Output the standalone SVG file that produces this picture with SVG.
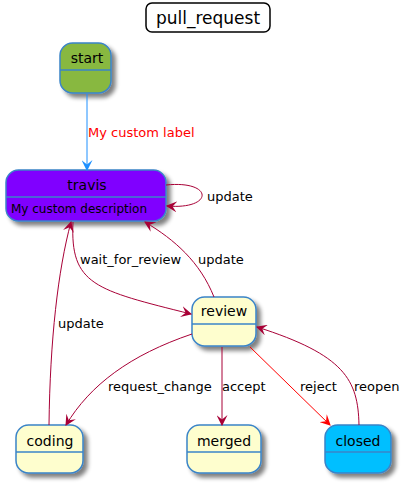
<svg xmlns="http://www.w3.org/2000/svg" width="410" height="484" viewBox="0 0 410 484">
<defs>
<filter id="sh" x="-20%" y="-20%" width="150%" height="150%">
<feGaussianBlur in="SourceAlpha" stdDeviation="2"/>
<feOffset dx="4" dy="4" result="b"/>
<feComponentTransfer><feFuncA type="linear" slope="0.5"/></feComponentTransfer>
<feMerge><feMergeNode/><feMergeNode in="SourceGraphic"/></feMerge>
</filter>
<marker id="ar" viewBox="0 0 10 10" refX="9" refY="5" markerWidth="11" markerHeight="11" markerUnits="userSpaceOnUse" orient="auto"><path d="M0,0 L10,5 L0,10 L4,5 Z" fill="#A80036"/></marker>
<marker id="ab" viewBox="0 0 10 10" refX="9" refY="5" markerWidth="11" markerHeight="11" markerUnits="userSpaceOnUse" orient="auto"><path d="M0,0 L10,5 L0,10 L4,5 Z" fill="#1E90FF"/></marker>
<marker id="ared" viewBox="0 0 10 10" refX="9" refY="5" markerWidth="11" markerHeight="11" markerUnits="userSpaceOnUse" orient="auto"><path d="M0,0 L10,5 L0,10 L4,5 Z" fill="#FF0000"/></marker>
</defs>
<style>
text{font-family:"DejaVu Sans","Liberation Sans",sans-serif;fill:#000}
.n{font-size:14px;text-anchor:middle}
.l{font-size:13px}
.box{stroke:#3A84C8;stroke-width:1.5}
.div{stroke:#3A84C8;stroke-width:1.5}
.e{fill:none;stroke:#A80036;stroke-width:1}
</style>
<g id="title">
<rect x="146" y="3" width="124" height="29" rx="6" fill="#fff" stroke="#000" stroke-width="1.5"/>
<text x="208" y="24" style="font-size:17px;text-anchor:middle">pull_request</text>
</g>
<g id="start">
<rect class="box" x="60" y="43" width="51" height="50" rx="12.5" fill="#88B840" filter="url(#sh)"/>
<line class="div" x1="60" y1="70" x2="111" y2="70"/>
<text class="n" x="87" y="63">start</text>
</g>
<g id="travis">
<rect class="box" x="6" y="170" width="160" height="51" rx="12.5" fill="#8000FF" filter="url(#sh)"/>
<line class="div" x1="6" y1="197" x2="166" y2="197"/>
<text class="n" x="87" y="190">travis</text>
<text x="11" y="213" style="font-size:12px">My custom description</text>
</g>
<g id="review">
<rect class="box" x="192" y="297" width="64" height="49" rx="12.5" fill="#FEFECE" filter="url(#sh)"/>
<line class="div" x1="192" y1="324" x2="256" y2="324"/>
<text class="n" x="224" y="316">review</text>
</g>
<g id="coding">
<rect class="box" x="16" y="425" width="67" height="48" rx="12.5" fill="#FEFECE" filter="url(#sh)"/>
<line class="div" x1="16" y1="452" x2="83" y2="452"/>
<text class="n" x="50" y="446">coding</text>
</g>
<g id="merged">
<rect class="box" x="187" y="425" width="74" height="48" rx="12.5" fill="#FEFECE" filter="url(#sh)"/>
<line class="div" x1="187" y1="452" x2="261" y2="452"/>
<text class="n" x="224" y="446">merged</text>
</g>
<g id="closed">
<rect class="box" x="325" y="425" width="66" height="48" rx="12.5" fill="#00BFFF" filter="url(#sh)"/>
<line class="div" x1="325" y1="452" x2="391" y2="452"/>
<text class="n" x="358" y="446">closed</text>
</g>
<g id="connectors">
<path d="M87,94 L87,170" fill="none" stroke="#1E90FF" stroke-width="1" marker-end="url(#ab)"/>
<text class="l" x="88" y="137" style="fill:#FF0000">My custom label</text>
<path class="e" d="M166,185 C214,180 214,210 167,206" marker-end="url(#ar)"/>
<text class="l" x="207" y="201">update</text>
<path class="e" d="M73,222 C70,285 95,290 191,314" marker-end="url(#ar)"/>
<text class="l" x="80" y="264">wait_for_review</text>
<path class="e" d="M214,297 C200,262 175,240 145,222" marker-end="url(#ar)"/>
<text class="l" x="198" y="264">update</text>
<path class="e" d="M49,425 C50,340 58,270 71,222" marker-end="url(#ar)"/>
<text class="l" x="58" y="328">update</text>
<path class="e" d="M192,334 C130,355 90,385 66,425" marker-end="url(#ar)"/>
<text class="l" x="108" y="391">request_change</text>
<path class="e" d="M222,347 L222,425" marker-end="url(#ar)"/>
<text class="l" x="222" y="391">accept</text>
<path d="M250,347 L330,425" fill="none" stroke="#FF0000" stroke-width="1" marker-end="url(#ared)"/>
<text class="l" x="300" y="391">reject</text>
<path class="e" d="M359,425 C358,380 345,355 257,327" marker-end="url(#ar)"/>
<text class="l" x="354" y="391">reopen</text>
</g>
</svg>
